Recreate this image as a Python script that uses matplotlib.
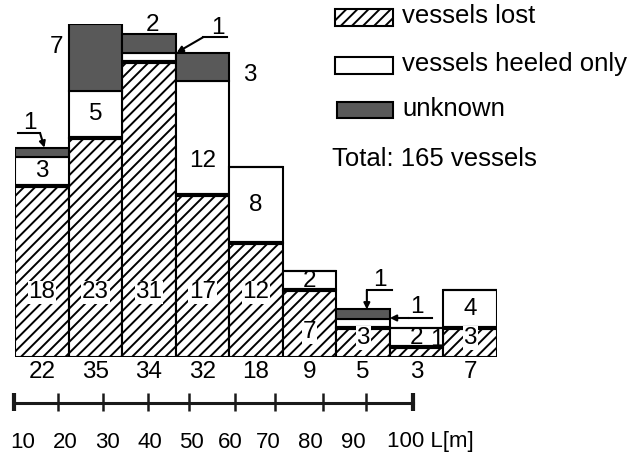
import numpy as np
import matplotlib
matplotlib.use('Agg')
import matplotlib.pyplot as plt
from matplotlib.patches import Rectangle

plt.rcParams['font.family'] = ['Liberation Sans', 'DejaVu Sans']
plt.rcParams['hatch.linewidth'] = 1.4

# data per length class (10-20, 20-30, ... 90-100 m)
lost = [18, 23, 31, 17, 12, 7, 3, 1, 3]
heeled = [3, 5, 1, 12, 8, 2, 1, 2, 4]
unknown = [1, 7, 2, 3, 0, 0, 1, 0, 0]
totals = [22, 35, 34, 32, 18, 9, 5, 3, 7]
ruler_labels = ['10', '20', '30', '40', '50', '60', '70', '80', '90', '100 L[m]']

DARK = '#595959'
FS = 17.5

fig = plt.figure(figsize=(6.36, 4.57), dpi=100)
ax = fig.add_axes([15/636, 100/457, 482/636, 333/457])
ax.set_xlim(0, 9)
ax.set_ylim(0, 35)
ax.axis('off')

x = np.arange(len(lost))
lost_a = np.array(lost)
heel_a = np.array(heeled)
ax.bar(x, lost, width=1, align='edge', color='white', edgecolor='black',
       hatch='///', lw=1.5)
ax.bar(x, heeled, bottom=lost_a, width=1, align='edge', color='white',
       edgecolor='black', lw=1.5)
ax.bar(x, unknown, bottom=lost_a + heel_a, width=1, align='edge', color=DARK,
       edgecolor='black', lw=1.5)
ax.hlines(lost, x, x + 1, color='black', lw=3)

# numbers inside bars
for i in range(len(lost)):
    if lost[i] >= 3:
        yl = 6.8 if lost[i] >= 10 else max(2.0, lost[i] * 0.37)
        ax.text(i + 0.5, yl, str(lost[i]), ha='center', va='center', fontsize=FS,
                bbox=dict(facecolor='white', edgecolor='none', pad=0.5))
    if heeled[i] >= 2:
        yh = lost[i] + heeled[i] / 2
        if heeled[i] > 10:
            yh = lost[i] + heeled[i] * 0.3
        ax.text(i + 0.5, yh, str(heeled[i]), ha='center', va='center', fontsize=FS)
    ax.text(i + 0.5, -1.6, str(totals[i]), ha='center', va='center', fontsize=FS,
            clip_on=False)

# unknown labels outside bars
ax.text(0.78, 32.6, '7', ha='center', va='center', fontsize=FS)
ax.text(2.56, 34.9, '2', ha='center', va='center', fontsize=FS, clip_on=False)
ax.text(4.39, 29.6, '3', ha='center', va='center', fontsize=FS)


def leader(txt, txy, line, tip):
    ax.text(txy[0], txy[1], txt, ha='center', va='center', fontsize=FS, clip_on=False)
    ax.plot([line[0][0], line[1][0]], [line[0][1], line[1][1]], color='black',
            lw=1.5, clip_on=False)
    ax.annotate('', xy=tip, xytext=line[1],
                arrowprops=dict(arrowstyle='-|>', color='black', lw=1.5,
                                mutation_scale=9, shrinkA=0, shrinkB=0))


leader('1', (0.28, 24.6), ((0.06, 23.5), (0.47, 23.5)), (0.55, 22.0))
leader('1', (3.79, 34.6), ((3.96, 33.6), (3.51, 33.6)), (3.02, 32.0))
leader('1', (6.81, 8.1), ((7.04, 7.04), (6.57, 7.04)), (6.57, 5.0))
leader('1', (7.5, 5.3), ((7.79, 4.1), (7.35, 4.1)), (7.0, 4.1))
leader('1', (7.88, 1.8), ((7.93, 0.8), (7.93, 0.8)), (8.07, -0.1))

# overlay in pixel units for legend and length ruler
ov = fig.add_axes([0, 0, 1, 1])
ov.set_xlim(0, 636)
ov.set_ylim(457, 0)
ov.axis('off')

LFS = 18.5
ov.add_patch(Rectangle((335, 9), 58, 17, facecolor='white', edgecolor='black',
                       hatch='///', lw=1.5))
ov.add_patch(Rectangle((335, 57), 58, 17, facecolor='white', edgecolor='black', lw=1.5))
ov.add_patch(Rectangle((337, 102), 56, 16, facecolor=DARK, edgecolor='black', lw=1.5))
ov.text(402, 16, 'vessels lost', va='center', fontsize=LFS)
ov.text(402, 64, 'vessels heeled only', va='center', fontsize=LFS)
ov.text(402, 109, 'unknown', va='center', fontsize=LFS)
ov.text(332, 159, 'Total: %d vessels' % sum(totals), va='center', fontsize=LFS)

ruler_ticks = [14, 58, 103, 148, 189, 235, 275, 323, 366, 413]
ruler_text_x = [23, 65, 107, 150, 191, 230, 268, 310, 353, 387]
ov.plot([ruler_ticks[0], ruler_ticks[-1]], [403, 403], color='#1a1a1a', lw=2.2)
for k, tx in enumerate(ruler_ticks):
    lw = 3 if k in (0, len(ruler_ticks) - 1) else 1.8
    ov.plot([tx, tx], [393, 411], color='#1a1a1a', lw=lw, solid_capstyle='butt')
for k, lab in enumerate(ruler_labels):
    ha = 'left' if k == len(ruler_labels) - 1 else 'center'
    ov.text(ruler_text_x[k], 442, lab, ha=ha, va='center', fontsize=16)

fig.savefig('out.png', dpi=100)
